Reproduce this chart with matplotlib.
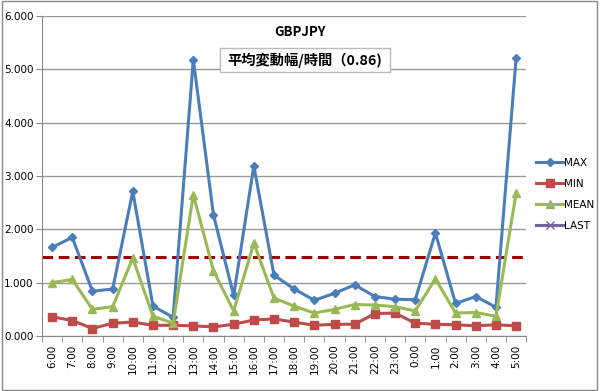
import matplotlib.pyplot as plt
from matplotlib.patches import Rectangle

plt.rcParams['font.family'] = ['Noto Sans CJK JP', 'DejaVu Sans']

hours = ["6:00", "7:00", "8:00", "9:00", "10:00", "11:00", "12:00", "13:00",
         "14:00", "15:00", "16:00", "17:00", "18:00", "19:00", "20:00", "21:00",
         "22:00", "23:00", "0:00", "1:00", "2:00", "3:00", "4:00", "5:00"]
max_vals = [1.66, 1.85, 0.84, 0.88, 2.71, 0.56, 0.35, 5.18, 2.27, 0.76, 3.19, 1.14,
            0.88, 0.67, 0.80, 0.96, 0.74, 0.69, 0.68, 1.93, 0.61, 0.74, 0.54, 5.21]
min_vals = [0.36, 0.29, 0.14, 0.24, 0.26, 0.20, 0.20, 0.19, 0.17, 0.22, 0.30, 0.32,
            0.26, 0.20, 0.22, 0.22, 0.42, 0.43, 0.24, 0.22, 0.21, 0.19, 0.21, 0.19]
mean_vals = [1.00, 1.06, 0.50, 0.55, 1.46, 0.37, 0.24, 2.65, 1.22, 0.47, 1.74, 0.71,
             0.56, 0.43, 0.50, 0.59, 0.58, 0.55, 0.47, 1.07, 0.43, 0.44, 0.37, 2.68]
last_vals = []
avg_line = 1.48

fig = plt.figure(figsize=(6, 3.91), dpi=100)
fig.patches.append(Rectangle((0.003, 0.003), 0.992, 0.994, transform=fig.transFigure,
                             fill=False, edgecolor="#888888", linewidth=1.0))
ax = fig.add_axes([0.07, 0.1407, 0.807, 0.8184])

x = range(len(hours))
ax.plot(x, max_vals, color="#4A7EBB", marker="D", markersize=4.5, linewidth=2.2, label="MAX")
ax.plot(x, min_vals, color="#BE4B48", marker="s", markersize=6, linewidth=2.2, label="MIN")
ax.plot(x, mean_vals, color="#98B954", marker="^", markersize=6, linewidth=2.2, label="MEAN")
ax.plot(range(len(last_vals)), last_vals, color="#7D60A0", marker="x", markersize=6,
        linewidth=2.2, label="LAST")
ax.axhline(avg_line, color="#A00000", linestyle=(0, (3.5, 1.8)), linewidth=2.2, zorder=1)

ax.set_xlim(-0.5, len(hours) - 0.5)
ax.set_ylim(0, 6)
ax.set_yticks([0, 1, 2, 3, 4, 5, 6])
ax.set_yticklabels([f"{v:.3f}" for v in range(7)], fontsize=7.5, family="DejaVu Sans")
ax.set_xticks(list(x))
ax.set_xticklabels(hours, rotation=90, fontsize=7.5, family="DejaVu Sans")
ax.set_xticks([i + 0.5 for i in range(-1, len(hours))], minor=True)
ax.tick_params(axis="x", which="major", length=0, pad=6)
ax.tick_params(axis="x", which="minor", length=4, color="#888888")
ax.tick_params(axis="y", length=4, color="#888888", pad=2)
ax.grid(axis="y", color="#999999", linewidth=1)
ax.set_axisbelow(True)
for side in ["top", "right"]:
    ax.spines[side].set_visible(False)
for side in ["left", "bottom"]:
    ax.spines[side].set_color("#888888")

fig.text(0.5, 0.918, "GBPJPY", ha="center", va="center", fontsize=9.5, fontweight="bold")
fig.patches.append(Rectangle((0.367, 0.816), 0.283, 0.061, transform=fig.transFigure,
                             facecolor="white", edgecolor="#BBBBBB", linewidth=1.0, zorder=3))
fig.text(0.508, 0.846, "平均変動幅/時間（0.86)", ha="center", va="center", fontsize=10.3,
         fontweight="bold", zorder=4)

fig.legend(loc="center left", bbox_to_anchor=(0.878, 0.503), frameon=False,
           handlelength=2.6, labelspacing=1.05, handletextpad=0.1,
           prop={"family": "DejaVu Sans", "size": 7.5})

fig.savefig("out.png", dpi=100)
